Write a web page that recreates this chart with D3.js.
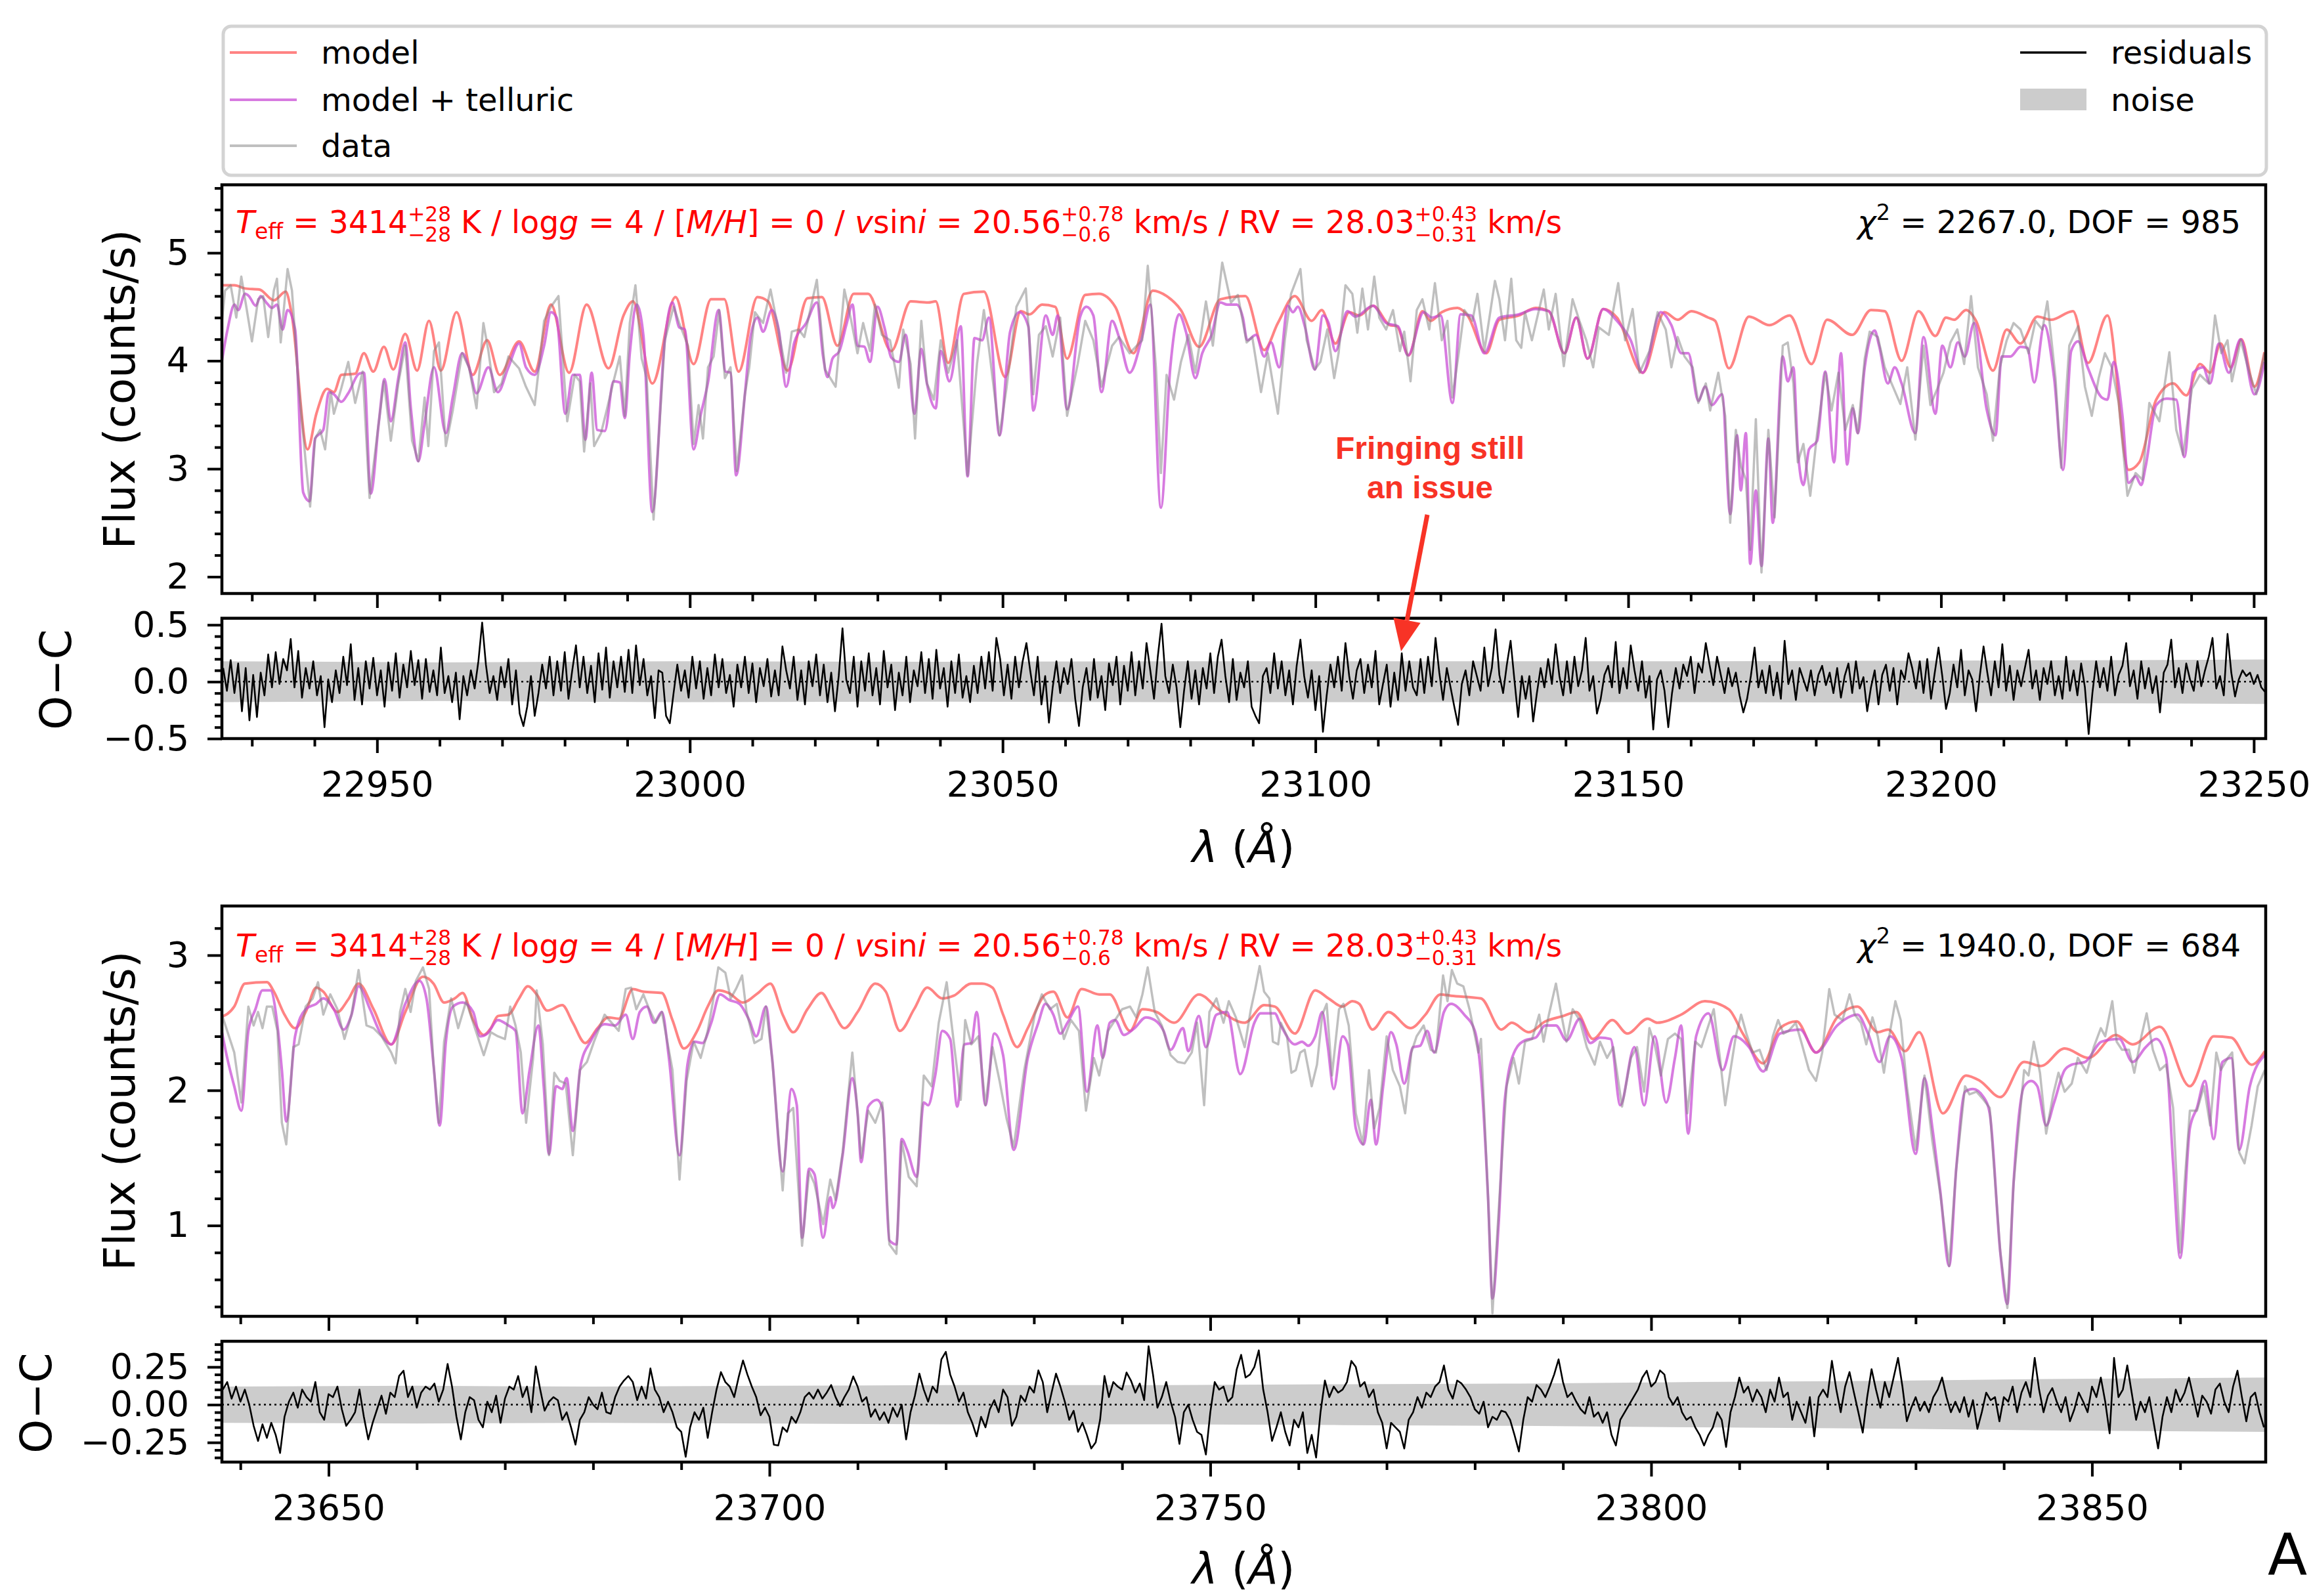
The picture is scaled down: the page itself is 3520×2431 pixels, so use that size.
<!DOCTYPE html>
<html>
<head>
<meta charset="utf-8">
<script src="https://cdn.jsdelivr.net/npm/d3@7"></script>
<style>
  body { margin: 0; background: #fff; }
  text { white-space: pre; }
</style>
</head>
<body>
<script>
// ---------------------------------------------------------------
// Data (wavelength in Angstrom, flux in counts/s)

// Upper order: model, model + telluric, observed data
var topModel = [[22924.9,4.70],[22927.2,4.70],[22928.9,4.67],[22931.2,4.66],[22933.5,4.56],[22935.4,4.64],[22936.3,4.45],[22938.9,3.18],[22940.3,3.51],[22942.0,3.74],[22943.1,3.71],[22944.3,3.87],[22946.5,3.88],[22947.9,4.07],[22949.4,3.90],[22951.1,4.13],[22952.6,3.92],[22954.5,4.25],[22956.4,3.91],[22958.3,4.37],[22960.2,3.91],[22962.7,4.45],[22965.3,3.87],[22967.6,4.19],[22969.6,3.87],[22972.7,4.18],[22975.2,3.90],[22977.8,4.52],[22980.7,3.89],[22983.5,4.52],[22987.0,3.93],[22989.4,4.42],[22990.9,4.55],[22994.0,3.79],[22997.7,4.59],[23000.6,3.97],[23003.4,4.57],[23005.5,4.57],[23007.8,3.90],[23010.8,4.59],[23012.5,4.55],[23015.6,3.91],[23018.8,4.58],[23021.1,4.59],[23023.6,4.14],[23026.2,4.62],[23028.5,4.62],[23032.2,4.09],[23035.3,4.55],[23038.1,4.54],[23039.3,4.55],[23041.3,3.98],[23043.8,4.62],[23047.0,4.64],[23050.4,3.85],[23052.9,4.46],[23054.3,4.43],[23056.3,4.52],[23058.4,4.50],[23060.3,4.02],[23063.2,4.61],[23065.4,4.62],[23068.0,4.50],[23070.9,4.07],[23074.0,4.65],[23076.2,4.60],[23078.5,4.47],[23081.4,4.13],[23084.8,4.57],[23088.8,4.60],[23091.8,4.10],[23094.0,4.35],[23096.7,4.60],[23099.4,4.37],[23101.0,4.47],[23103.2,4.16],[23105.4,4.45],[23107.0,4.42],[23109.2,4.51],[23111.9,4.33],[23113.0,4.32],[23114.9,4.05],[23117.1,4.46],[23118.4,4.37],[23120.2,4.45],[23122.7,4.49],[23124.3,4.42],[23127.3,4.07],[23129.4,4.38],[23132.5,4.42],[23135.2,4.49],[23137.3,4.46],[23139.8,4.07],[23141.7,4.40],[23143.5,4.02],[23146.0,4.48],[23148.2,4.40],[23152.3,3.89],[23155.8,4.45],[23157.9,4.38],[23160.1,4.46],[23162.8,4.40],[23163.9,4.37],[23166.1,3.93],[23169.3,4.41],[23172.6,4.33],[23175.8,4.42],[23179.3,3.97],[23181.8,4.38],[23185.8,4.24],[23188.8,4.47],[23191.0,4.46],[23193.7,4.00],[23196.4,4.46],[23199.1,4.23],[23200.8,4.40],[23202.1,4.38],[23204.0,4.47],[23205.6,4.37],[23208.3,3.91],[23210.5,4.29],[23212.7,4.16],[23215.4,4.41],[23217.6,4.38],[23221.1,4.46],[23223.5,3.98],[23226.6,4.42],[23230.0,2.99],[23231.7,3.06],[23234.4,3.64],[23237.1,3.79],[23239.2,3.68],[23241.4,3.97],[23243.0,3.89],[23244.7,4.16],[23246.3,3.94],[23248.0,4.20],[23250.1,3.76],[23251.7,4.08]];

var topTelluric = [[22924.9,3.89],[22926.1,4.29],[22927.2,4.52],[22927.8,4.47],[22928.9,4.62],[22929.5,4.60],[22930.6,4.51],[22931.4,4.60],[22932.3,4.54],[22933.2,4.49],[22934.0,4.52],[22934.9,4.29],[22935.7,4.47],[22936.9,4.29],[22938.2,2.78],[22939.2,2.70],[22940.1,3.28],[22941.4,3.36],[22942.3,3.71],[22943.1,3.69],[22944.3,3.62],[22945.4,3.70],[22947.1,3.88],[22947.9,3.89],[22949.0,2.77],[22950.3,3.44],[22951.2,3.83],[22952.2,3.44],[22953.4,3.84],[22954.5,4.17],[22955.4,3.56],[22956.6,3.07],[22957.6,3.42],[22959.1,3.94],[22961.0,3.33],[22962.1,3.66],[22963.6,4.07],[22964.7,3.94],[22965.9,3.70],[22967.8,3.94],[22969.3,3.71],[22971.0,3.94],[22972.7,4.16],[22973.8,3.94],[22975.2,3.87],[22976.7,4.14],[22977.8,4.45],[22978.7,4.40],[22980.1,3.51],[22981.3,3.87],[22982.4,3.87],[22983.3,3.27],[22984.3,3.89],[22985.2,3.36],[22986.4,3.35],[22987.8,3.81],[22988.8,3.80],[22989.6,3.47],[22990.4,4.07],[22991.5,4.52],[22992.6,4.22],[22994.0,2.60],[22996.0,4.19],[22997.2,4.54],[22998.3,4.31],[22999.2,4.29],[23000.6,3.18],[23001.7,3.49],[23002.9,3.80],[23004.6,4.47],[23005.7,3.90],[23006.5,3.89],[23007.4,2.94],[23008.8,3.69],[23009.7,4.22],[23010.8,4.40],[23011.7,4.27],[23013.1,4.47],[23014.2,4.29],[23015.4,3.76],[23016.7,4.17],[23018.6,4.35],[23020.3,4.54],[23021.3,4.04],[23022.0,3.85],[23022.8,4.02],[23023.9,4.09],[23025.0,4.33],[23026.0,4.52],[23026.8,4.14],[23027.9,4.13],[23028.8,3.99],[23030.0,4.50],[23031.1,4.31],[23032.2,4.03],[23033.4,3.99],[23034.5,4.24],[23035.9,3.51],[23037.0,4.11],[23037.9,3.79],[23039.3,3.56],[23040.1,4.09],[23041.5,3.81],[23043.3,4.32],[23044.4,2.93],[23045.5,4.21],[23046.7,4.19],[23047.8,4.40],[23049.5,3.31],[23051.2,4.27],[23052.7,4.45],[23054.1,4.32],[23054.9,3.54],[23056.9,4.42],[23058.0,4.24],[23058.8,4.42],[23060.3,3.55],[23062.4,4.41],[23063.4,4.50],[23064.5,4.42],[23065.8,3.71],[23067.5,4.37],[23068.6,4.22],[23070.3,3.89],[23072.3,4.22],[23073.6,4.52],[23075.3,2.64],[23076.8,3.94],[23078.2,4.43],[23079.3,4.27],[23080.8,3.84],[23081.9,4.07],[23083.4,4.24],[23084.8,4.54],[23085.9,4.52],[23087.4,4.52],[23088.4,4.40],[23089.1,4.19],[23090.5,4.24],[23091.8,4.04],[23092.9,4.17],[23094.2,3.94],[23095.6,4.51],[23096.4,4.45],[23097.2,4.50],[23098.3,4.32],[23099.9,3.92],[23101.2,4.42],[23102.1,4.35],[23103.2,4.09],[23105.1,4.46],[23106.4,4.41],[23109.2,4.51],[23111.3,4.35],[23113.2,4.32],[23114.8,4.05],[23117.3,4.45],[23118.6,4.40],[23120.0,4.42],[23121.9,3.61],[23123.2,4.43],[23124.9,4.42],[23127.0,4.07],[23129.4,4.40],[23132.5,4.43],[23135.2,4.48],[23137.3,4.46],[23139.8,4.07],[23141.7,4.40],[23143.5,4.02],[23146.0,4.48],[23148.2,4.37],[23150.4,4.19],[23152.3,3.89],[23155.2,4.45],[23156.9,4.33],[23158.5,4.07],[23159.6,4.07],[23161.2,3.63],[23162.3,3.76],[23163.4,3.59],[23165.0,3.69],[23166.3,2.58],[23167.4,3.31],[23168.0,2.80],[23168.8,3.33],[23169.5,2.12],[23170.4,2.80],[23171.3,2.10],[23172.4,3.28],[23173.1,2.50],[23174.7,4.04],[23175.5,3.81],[23176.4,3.94],[23177.1,3.18],[23178.0,2.85],[23178.9,3.18],[23180.2,3.26],[23181.5,3.90],[23182.9,3.06],[23184.0,4.07],[23185.0,3.04],[23185.9,3.56],[23186.7,3.33],[23187.8,3.94],[23189.4,4.28],[23190.1,4.14],[23191.5,3.79],[23192.6,3.94],[23193.7,3.79],[23195.9,3.33],[23197.2,4.22],[23199.1,3.51],[23200.2,4.14],[23201.5,3.94],[23202.7,4.17],[23203.8,4.04],[23205.3,4.35],[23207.3,3.55],[23208.7,3.31],[23209.7,4.04],[23211.1,4.04],[23212.7,4.13],[23213.8,4.12],[23214.9,3.80],[23216.5,4.33],[23218.1,3.83],[23219.5,2.99],[23220.8,4.09],[23221.9,4.18],[23223.5,3.93],[23225.7,3.66],[23226.6,3.64],[23227.6,3.99],[23229.0,3.49],[23230.0,2.87],[23231.1,2.93],[23232.0,2.85],[23232.7,3.02],[23234.4,3.59],[23236.0,3.65],[23237.6,3.64],[23238.9,3.11],[23240.3,3.89],[23241.9,3.94],[23243.0,3.79],[23244.4,4.16],[23246.0,3.89],[23247.9,4.20],[23250.1,3.69],[23251.7,3.99]];

var topData = [[22924.9,4.19],[22925.7,4.65],[22926.6,4.70],[22927.5,4.40],[22928.3,4.78],[22929.1,4.50],[22930.0,4.18],[22931.0,4.57],[22931.8,4.60],[22932.6,4.22],[22933.5,4.65],[22934.0,4.76],[22934.6,4.17],[22935.7,4.85],[22936.4,4.65],[22937.4,3.81],[22938.6,3.06],[22939.3,2.65],[22940.1,3.28],[22940.9,3.36],[22941.7,3.18],[22942.6,3.71],[22943.1,3.51],[22944.3,3.75],[22945.4,3.99],[22946.5,3.61],[22947.7,3.90],[22948.8,2.73],[22950.3,3.44],[22951.1,3.81],[22952.2,3.26],[22953.4,3.79],[22954.5,4.14],[22955.6,3.26],[22956.6,3.07],[22957.6,3.66],[22958.2,3.21],[22959.1,4.09],[22959.9,4.17],[22961.0,3.21],[22962.1,3.54],[22963.6,4.07],[22964.7,3.94],[22965.9,3.56],[22967.0,4.35],[22967.8,4.09],[22968.7,3.71],[22969.9,3.79],[22971.0,4.04],[22972.7,3.93],[22973.8,3.76],[22975.2,3.59],[22976.7,4.37],[22977.8,4.50],[22979.0,4.60],[22980.4,3.44],[22981.6,3.87],[22982.4,3.81],[22983.1,3.16],[22984.1,3.79],[22984.7,3.21],[22985.8,3.33],[22986.7,3.54],[22987.8,3.81],[22988.8,4.04],[22989.6,3.49],[22990.4,4.35],[22991.3,4.70],[22992.3,4.02],[22993.1,3.84],[22994.2,2.53],[22996.0,4.19],[22997.4,4.50],[22998.3,4.35],[22999.7,4.14],[23000.6,3.23],[23001.4,3.59],[23002.1,3.28],[23002.9,3.94],[23003.8,4.04],[23004.7,4.47],[23005.6,3.84],[23006.5,3.94],[23007.5,2.98],[23008.8,3.69],[23009.5,3.94],[23010.4,4.45],[23011.7,4.35],[23012.9,4.66],[23014.2,4.27],[23015.4,3.89],[23016.3,4.27],[23017.4,4.29],[23018.3,4.22],[23020.3,4.75],[23021.6,3.92],[23023.3,3.76],[23024.7,4.66],[23025.8,4.37],[23026.8,4.07],[23027.7,4.35],[23028.8,4.09],[23029.6,4.52],[23030.7,4.24],[23032.0,4.19],[23033.4,3.75],[23034.1,4.29],[23035.3,3.97],[23036.0,3.28],[23037.0,4.37],[23037.9,3.79],[23039.0,3.64],[23040.1,4.19],[23041.3,3.89],[23042.7,4.19],[23044.4,2.94],[23045.9,3.97],[23047.0,4.47],[23047.8,4.12],[23049.5,3.31],[23050.6,3.74],[23052.2,4.50],[23053.7,4.67],[23054.9,3.69],[23055.8,4.24],[23056.9,4.32],[23058.0,4.04],[23059.2,4.40],[23060.3,3.49],[23062.0,3.97],[23063.2,4.37],[23064.5,4.19],[23065.8,3.76],[23067.5,4.14],[23068.6,4.22],[23070.3,4.07],[23072.3,4.19],[23073.2,4.88],[23074.5,3.94],[23075.3,2.96],[23076.2,3.87],[23077.4,3.64],[23078.5,3.99],[23079.7,4.24],[23080.8,3.89],[23082.5,4.55],[23083.6,4.14],[23085.1,4.91],[23086.5,4.54],[23087.6,4.61],[23089.0,4.17],[23089.9,4.22],[23091.3,3.71],[23092.4,4.07],[23094.0,3.51],[23095.1,4.19],[23096.1,4.62],[23097.6,4.85],[23098.6,4.19],[23099.9,3.92],[23100.8,3.99],[23101.9,4.29],[23103.0,3.84],[23103.7,4.07],[23104.8,4.70],[23105.9,4.62],[23106.7,4.26],[23107.5,4.67],[23108.4,4.29],[23109.4,4.78],[23110.2,4.40],[23111.3,4.29],[23112.4,4.47],[23113.5,4.09],[23114.2,4.27],[23115.2,3.81],[23116.2,4.47],[23117.1,4.57],[23118.2,4.29],[23119.1,4.72],[23120.2,4.19],[23121.1,4.37],[23121.9,3.66],[23122.9,4.07],[23123.8,4.47],[23125.1,4.37],[23125.9,4.62],[23127.0,4.09],[23128.7,4.74],[23129.4,4.57],[23130.3,4.19],[23131.3,4.76],[23132.1,4.19],[23132.9,4.12],[23133.5,4.45],[23134.6,4.19],[23136.5,4.66],[23137.3,4.29],[23138.4,4.62],[23139.7,3.95],[23141.1,4.57],[23142.2,4.37],[23143.3,4.19],[23144.4,3.94],[23145.3,4.31],[23146.9,4.24],[23148.4,4.72],[23149.5,4.19],[23150.7,4.48],[23151.8,3.89],[23153.4,4.09],[23154.7,4.45],[23156.0,4.29],[23156.9,3.94],[23157.9,4.22],[23159.0,4.04],[23160.3,3.94],[23161.2,3.61],[23162.4,3.79],[23163.1,3.54],[23164.4,3.89],[23165.5,3.49],[23166.3,2.50],[23167.2,3.36],[23168.0,3.03],[23168.8,2.90],[23169.5,2.25],[23170.4,3.46],[23171.3,2.04],[23172.4,3.36],[23173.4,2.55],[23174.7,4.14],[23175.5,4.17],[23176.4,3.79],[23177.1,3.06],[23178.0,3.23],[23179.1,2.75],[23180.2,3.33],[23181.5,3.89],[23182.5,3.54],[23183.6,3.89],[23184.7,3.36],[23185.9,3.59],[23186.7,3.33],[23187.8,4.02],[23188.6,4.27],[23189.9,4.22],[23191.0,3.94],[23192.1,3.79],[23193.5,3.60],[23194.6,3.94],[23195.9,3.27],[23197.2,4.14],[23198.3,3.59],[23199.4,3.74],[23200.4,3.89],[23201.5,4.17],[23202.6,4.29],[23203.7,3.97],[23204.8,4.60],[23205.9,3.94],[23207.3,3.69],[23208.3,3.26],[23209.4,3.94],[23210.5,4.19],[23211.6,4.35],[23212.7,4.29],[23214.0,4.07],[23215.1,4.37],[23216.2,4.29],[23217.0,4.55],[23218.3,3.84],[23219.2,3.01],[23220.5,4.14],[23221.9,4.32],[23223.0,3.76],[23224.1,3.49],[23225.2,3.84],[23226.2,4.07],[23227.3,3.94],[23228.4,3.61],[23229.8,2.75],[23231.1,2.96],[23232.2,2.90],[23233.3,3.61],[23234.9,3.44],[23236.5,4.08],[23237.6,3.36],[23238.7,3.13],[23240.1,3.74],[23241.4,3.87],[23242.8,3.79],[23243.8,4.42],[23244.8,4.07],[23245.8,4.19],[23246.5,3.81],[23247.9,4.19],[23249.3,3.89],[23250.4,3.69],[23251.7,4.07]];

// Upper order residuals, sampled every 0.6 A from 22925.4 A
var topResStart = 22925.4, topResStep = 0.6;
var topResidual = [0.12,-0.08,0.19,-0.10,0.16,-0.26,0.12,-0.34,0.06,-0.31,
0.08,-0.12,0.24,-0.05,0.26,-0.02,0.20,0.10,0.375,-0.05,
0.27,-0.14,0.12,-0.06,0.18,-0.12,0.05,-0.40,0.02,-0.18,
0.10,-0.10,0.22,-0.03,0.33,-0.16,0.12,-0.20,0.18,-0.06,
0.21,-0.12,0.10,-0.22,0.17,-0.08,0.25,-0.14,0.15,-0.05,
0.27,-0.03,0.19,-0.15,0.20,-0.09,0.10,-0.12,0.30,-0.10,
0.05,-0.18,0.08,-0.33,0.05,-0.12,0.10,-0.06,0.18,0.52,
0.15,-0.10,0.05,-0.16,0.13,-0.05,0.20,-0.20,0.10,-0.28,
-0.39,-0.22,0.05,-0.30,-0.10,0.15,-0.06,0.22,-0.12,0.18,
-0.08,0.26,-0.15,0.10,0.32,-0.05,0.22,-0.10,0.14,-0.18,
0.25,-0.07,0.30,-0.14,0.18,-0.05,0.22,-0.09,0.28,-0.10,
0.32,-0.03,0.20,-0.12,0.05,-0.32,0.10,0.08,-0.30,-0.365,
-0.10,0.15,-0.08,0.10,-0.14,0.22,-0.06,0.18,-0.15,0.12,
-0.12,0.24,-0.05,0.20,-0.10,0.06,-0.22,0.15,-0.05,0.22,
-0.10,0.16,-0.18,0.12,-0.04,0.20,-0.13,0.10,-0.12,0.31,
0.10,-0.06,0.22,-0.16,0.10,-0.20,0.18,-0.04,0.24,-0.12,
0.15,-0.18,0.08,-0.26,0.05,0.47,0.02,-0.10,0.22,-0.22,
0.18,-0.08,0.25,-0.12,0.12,-0.20,0.27,-0.05,0.15,-0.25,
0.08,-0.12,0.22,-0.18,0.10,-0.04,0.26,-0.10,0.20,-0.15,
0.28,-0.06,0.12,-0.22,0.18,-0.10,0.24,-0.14,0.05,-0.18,
0.14,-0.10,0.22,-0.06,0.26,-0.08,0.385,0.20,-0.12,0.15,
-0.15,0.22,-0.05,0.18,0.34,0.10,-0.12,0.22,-0.20,0.05,
-0.36,-0.05,0.18,-0.10,0.12,-0.02,0.20,-0.15,-0.39,-0.05,
0.12,-0.16,0.20,-0.14,0.05,-0.25,0.16,-0.03,0.22,-0.20,
0.14,-0.08,0.26,-0.12,0.18,-0.06,0.34,0.10,-0.15,0.22,
0.51,0.05,-0.10,0.15,-0.05,-0.40,-0.08,0.18,-0.15,0.10,
-0.20,0.12,-0.06,0.25,-0.10,0.22,0.37,0.05,-0.18,0.20,
-0.16,0.08,-0.05,0.18,-0.22,-0.30,-0.365,0.05,0.12,-0.10,
0.25,-0.06,0.18,-0.12,0.10,-0.20,0.14,0.37,0.05,-0.14,
0.10,-0.25,0.05,-0.44,-0.12,0.15,-0.05,0.22,-0.08,0.34,
0.05,-0.15,0.10,0.20,-0.10,0.15,-0.05,0.27,-0.20,-0.02,
0.15,-0.22,0.08,-0.16,0.25,-0.08,0.18,-0.05,-0.12,0.20,
-0.10,0.22,-0.04,0.385,0.08,-0.16,0.12,-0.05,-0.22,-0.38,
-0.02,0.10,-0.12,0.18,0.05,-0.08,0.30,-0.04,0.12,0.46,
0.06,-0.10,0.15,0.36,0.02,-0.31,0.05,-0.15,0.05,-0.35,
-0.10,0.12,-0.05,0.20,-0.02,0.33,0.05,-0.12,0.18,-0.10,
0.22,-0.04,0.10,0.385,-0.08,0.05,-0.28,-0.15,0.06,0.14,
-0.05,0.35,-0.10,0.12,-0.06,0.32,0.10,-0.08,0.18,-0.14,
0.05,-0.42,0.02,0.10,-0.08,-0.40,-0.10,0.12,-0.06,0.15,
0.05,0.22,-0.10,0.16,0.08,0.34,0.15,-0.03,0.22,0.06,
-0.10,0.12,-0.04,0.08,-0.12,-0.27,-0.15,0.05,0.30,-0.05,
0.10,-0.10,0.14,-0.12,0.08,-0.15,0.36,-0.02,0.10,-0.16,
0.12,0.02,-0.08,0.10,-0.12,0.06,0.14,-0.03,0.08,-0.10,
0.12,-0.14,0.05,0.16,-0.10,0.18,-0.06,0.04,-0.26,-0.05,
0.10,-0.20,0.06,0.15,-0.08,0.12,-0.20,0.10,0.02,0.25,
0.12,-0.06,0.18,-0.10,0.20,-0.15,0.08,0.30,0.05,-0.24,
-0.10,0.15,-0.05,0.28,-0.12,0.10,0.02,-0.26,0.05,0.31,
0.08,-0.12,0.18,-0.05,0.33,-0.08,0.14,-0.16,0.10,-0.04,
0.12,0.28,-0.06,0.10,-0.16,0.12,-0.02,0.18,-0.12,0.05,
-0.15,0.22,-0.08,0.10,-0.12,0.16,-0.05,-0.46,-0.10,0.18,
-0.05,0.12,-0.08,0.22,-0.12,0.06,0.14,0.34,-0.04,0.10,
-0.15,0.18,-0.06,0.12,-0.10,0.05,-0.27,0.08,0.15,0.37,
-0.05,0.12,-0.10,0.16,0.02,-0.08,0.18,-0.04,0.10,0.22,
0.385,-0.06,0.05,-0.12,0.42,0.08,-0.13,0.02,0.10,0.05,
0.08,-0.02,0.06,-0.05,-0.09];

var topNoiseWl = [22925, 22960, 23000, 23040, 23080, 23120, 23160, 23200, 23230, 23252];
var topNoise   = [0.18, 0.17, 0.18, 0.175, 0.18, 0.18, 0.18, 0.185, 0.19, 0.195];

// Lower order
var botModel = [[23637.7,2.54],[23639.3,2.62],[23640.5,2.79],[23643.0,2.80],[23643.8,2.73],[23645.0,2.56],[23646.2,2.46],[23647.4,2.58],[23648.6,2.76],[23649.4,2.73],[23651.0,2.58],[23652.2,2.67],[23653.4,2.79],[23655.1,2.60],[23657.1,2.34],[23658.7,2.58],[23660.7,2.84],[23661.9,2.79],[23663.1,2.65],[23664.3,2.68],[23665.2,2.72],[23666.4,2.52],[23667.6,2.41],[23668.4,2.46],[23669.2,2.55],[23670.4,2.56],[23671.6,2.68],[23672.6,2.77],[23673.6,2.71],[23674.8,2.59],[23676.5,2.63],[23677.7,2.50],[23679.1,2.35],[23680.5,2.46],[23681.7,2.54],[23682.9,2.53],[23684.5,2.75],[23685.7,2.73],[23687.8,2.72],[23689.0,2.52],[23690.3,2.31],[23691.8,2.44],[23693.0,2.62],[23694.2,2.74],[23695.4,2.72],[23697.0,2.65],[23698.7,2.72],[23700.1,2.79],[23701.5,2.56],[23702.7,2.43],[23704.3,2.60],[23705.9,2.72],[23707.1,2.60],[23708.5,2.46],[23710.0,2.58],[23712.0,2.79],[23713.2,2.73],[23714.8,2.44],[23716.4,2.60],[23717.9,2.76],[23719.6,2.68],[23720.9,2.70],[23722.9,2.79],[23724.1,2.79],[23725.3,2.76],[23726.5,2.56],[23728.1,2.32],[23729.3,2.46],[23731.3,2.71],[23732.2,2.73],[23733.8,2.54],[23735.4,2.75],[23737.4,2.71],[23738.6,2.71],[23740.9,2.44],[23742.3,2.60],[23743.9,2.58],[23745.9,2.50],[23748.7,2.71],[23751.1,2.59],[23753.9,2.50],[23756.1,2.63],[23757.3,2.62],[23759.6,2.42],[23761.9,2.74],[23763.4,2.68],[23765.0,2.62],[23766.1,2.66],[23766.9,2.64],[23768.4,2.45],[23770.2,2.58],[23772.7,2.46],[23774.4,2.56],[23776.1,2.71],[23777.3,2.70],[23780.7,2.68],[23783.0,2.45],[23784.2,2.50],[23786.1,2.43],[23788.0,2.51],[23790.0,2.55],[23791.5,2.58],[23793.4,2.38],[23795.6,2.52],[23797.3,2.42],[23799.6,2.53],[23800.7,2.50],[23803.4,2.56],[23806.1,2.66],[23808.8,2.60],[23810.4,2.42],[23812.7,2.20],[23814.6,2.46],[23816.5,2.51],[23818.7,2.28],[23821.1,2.54],[23823.4,2.62],[23825.7,2.43],[23826.9,2.45],[23828.8,2.29],[23830.4,2.43],[23833.1,1.83],[23835.7,2.11],[23837.3,2.07],[23839.6,1.95],[23842.3,2.21],[23844.2,2.18],[23846.9,2.31],[23849.6,2.24],[23852.7,2.41],[23854.6,2.34],[23857.7,2.47],[23861.1,2.03],[23863.8,2.40],[23865.8,2.39],[23868.1,2.19],[23869.6,2.29]];

var botTelluric = [[23637.7,2.50],[23638.5,2.24],[23639.3,2.03],[23640.1,1.85],[23640.9,2.44],[23641.7,2.60],[23642.5,2.74],[23643.4,2.74],[23644.2,2.48],[23644.7,2.15],[23645.2,1.77],[23646.2,2.40],[23647.4,2.60],[23648.6,2.64],[23649.4,2.68],[23650.6,2.60],[23651.7,2.45],[23652.6,2.56],[23653.4,2.77],[23654.7,2.60],[23655.9,2.42],[23657.1,2.34],[23658.7,2.64],[23660.3,2.81],[23661.1,2.68],[23661.9,2.19],[23662.6,1.74],[23663.3,2.36],[23664.1,2.62],[23665.2,2.65],[23666.4,2.58],[23667.2,2.40],[23668.0,2.42],[23669.2,2.52],[23670.4,2.48],[23671.2,2.44],[23672.0,1.83],[23672.8,2.15],[23673.8,2.48],[23674.4,2.03],[23675.0,1.53],[23675.8,2.03],[23676.5,2.01],[23677.0,2.09],[23677.7,1.70],[23678.6,2.19],[23679.7,2.36],[23681.3,2.49],[23682.5,2.48],[23683.7,2.56],[23684.5,2.38],[23685.3,2.58],[23686.1,2.62],[23686.9,2.50],[23687.8,2.58],[23688.6,2.24],[23689.8,1.52],[23690.7,2.19],[23691.5,2.36],[23692.4,2.35],[23693.4,2.50],[23694.4,2.71],[23695.4,2.67],[23696.6,2.64],[23697.7,2.52],[23698.5,2.40],[23699.6,2.62],[23700.3,2.24],[23701.5,1.40],[23702.5,2.01],[23703.1,1.89],[23703.7,0.91],[23704.5,1.42],[23705.1,1.38],[23706.1,0.91],[23706.9,1.21],[23707.2,1.13],[23708.3,1.52],[23709.4,2.09],[23710.0,1.83],[23710.4,1.47],[23711.2,1.88],[23712.2,1.93],[23712.8,1.87],[23713.6,0.89],[23714.4,0.86],[23715.0,1.64],[23715.6,1.56],[23716.7,1.36],[23717.5,1.91],[23718.0,1.89],[23718.8,2.11],[23719.6,2.44],[23720.5,2.38],[23721.3,1.88],[23722.1,2.34],[23722.9,2.35],[23723.5,2.58],[23724.5,1.89],[23725.5,2.42],[23726.5,2.26],[23727.7,1.56],[23729.3,2.24],[23730.5,2.50],[23731.3,2.64],[23732.2,2.56],[23733.0,2.42],[23733.8,2.50],[23735.0,2.62],[23736.0,1.99],[23737.2,2.48],[23737.8,2.24],[23738.6,2.50],[23739.2,2.52],[23740.2,2.41],[23741.4,2.46],[23742.7,2.54],[23743.7,2.52],[23744.7,2.44],[23745.5,2.30],[23746.9,2.46],[23747.5,2.29],[23748.7,2.55],[23749.5,2.32],[23750.7,2.56],[23751.9,2.58],[23753.4,2.12],[23755.0,2.50],[23755.7,2.57],[23757.3,2.57],[23758.0,2.48],[23759.6,2.34],[23760.4,2.36],[23761.1,2.33],[23761.9,2.40],[23762.7,2.58],[23763.3,2.34],[23764.0,2.01],[23765.0,2.40],[23765.6,2.34],[23766.5,1.72],[23767.4,1.60],[23768.2,1.93],[23768.8,1.60],[23769.6,2.03],[23770.5,2.43],[23771.1,2.34],[23772.0,2.05],[23773.0,2.32],[23773.8,2.33],[23774.6,2.44],[23775.4,2.28],[23776.5,2.58],[23777.3,2.64],[23778.8,2.56],[23780.0,2.44],[23780.7,2.11],[23781.5,1.21],[23782.0,0.46],[23782.7,1.01],[23783.4,1.93],[23784.6,2.30],[23785.7,2.37],[23786.9,2.39],[23788.0,2.48],[23789.2,2.48],[23790.4,2.37],[23791.9,2.53],[23793.1,2.35],[23794.2,2.39],[23795.4,2.38],[23796.5,1.89],[23798.1,2.32],[23799.2,1.89],[23800.4,2.40],[23801.7,1.91],[23802.7,2.24],[23803.4,2.48],[23804.2,1.68],[23805.1,2.40],[23806.5,2.57],[23808.1,2.15],[23809.4,2.40],[23811.1,2.32],[23812.7,2.14],[23814.6,2.42],[23816.9,2.45],[23818.7,2.28],[23821.1,2.48],[23823.4,2.56],[23824.6,2.42],[23825.9,2.21],[23827.1,2.40],[23828.4,2.24],[23830.0,1.53],[23831.0,2.09],[23831.9,1.72],[23832.8,1.25],[23833.8,0.70],[23834.6,1.42],[23835.6,1.99],[23836.5,2.01],[23837.7,1.95],[23838.4,1.83],[23839.6,0.80],[23840.4,0.42],[23841.1,1.31],[23842.3,2.03],[23843.1,2.07],[23843.8,2.03],[23844.8,1.74],[23845.7,1.91],[23846.9,2.15],[23847.7,2.19],[23849.2,2.21],[23851.1,2.36],[23853.1,2.38],[23854.6,2.21],[23856.1,2.32],[23857.3,2.38],[23858.4,2.24],[23859.2,1.46],[23860.0,0.76],[23861.1,1.72],[23861.9,1.87],[23862.8,2.07],[23863.8,1.64],[23864.8,2.21],[23865.8,2.24],[23866.7,1.56],[23867.9,2.03],[23869.6,2.26]];

var botData = [[23637.7,2.60],[23638.5,2.44],[23639.3,2.28],[23640.1,1.91],[23640.9,2.62],[23641.5,2.48],[23642.0,2.58],[23642.5,2.46],[23643.0,2.62],[23643.6,2.62],[23644.2,2.44],[23644.7,1.76],[23645.2,1.60],[23646.0,2.32],[23646.6,2.34],[23647.4,2.62],[23648.2,2.68],[23648.8,2.80],[23649.4,2.56],[23650.2,2.71],[23651.0,2.60],[23651.8,2.38],[23652.6,2.56],[23653.4,2.89],[23654.3,2.48],[23655.1,2.46],[23656.0,2.40],[23657.1,2.28],[23657.6,2.20],[23658.1,2.58],[23658.7,2.75],[23659.3,2.58],[23659.9,2.81],[23660.7,2.91],[23661.4,2.75],[23661.9,2.19],[23662.5,1.76],[23663.1,2.36],[23663.9,2.68],[23664.7,2.46],[23665.6,2.66],[23666.4,2.50],[23667.6,2.26],[23668.4,2.43],[23669.2,2.40],[23670.0,2.38],[23670.6,2.62],[23671.2,2.48],[23671.8,2.28],[23672.4,1.76],[23673.2,2.24],[23673.6,2.74],[23674.3,2.34],[23675.0,1.52],[23675.6,2.13],[23676.2,2.07],[23676.9,2.05],[23677.7,1.52],[23678.5,2.15],[23679.3,2.21],[23680.1,2.36],[23681.3,2.56],[23682.1,2.50],[23682.9,2.44],[23683.7,2.75],[23684.3,2.76],[23684.9,2.60],[23685.7,2.71],[23686.3,2.61],[23687.1,2.50],[23687.8,2.58],[23689.0,2.15],[23689.8,1.34],[23690.6,2.07],[23691.4,2.36],[23692.2,2.24],[23693.0,2.44],[23693.6,2.66],[23694.2,2.91],[23695.0,2.87],[23695.6,2.68],[23696.2,2.75],[23696.9,2.85],[23697.4,2.58],[23698.3,2.35],[23699.1,2.38],[23699.6,2.62],[23700.3,2.24],[23701.5,1.26],[23702.1,1.83],[23702.7,1.87],[23703.7,0.85],[23704.5,1.40],[23705.1,1.31],[23706.1,1.01],[23706.9,1.34],[23707.5,1.19],[23708.3,1.54],[23709.4,2.28],[23710.0,1.83],[23710.4,1.50],[23711.2,1.85],[23712.0,1.76],[23712.8,1.91],[23713.6,0.86],[23714.4,0.79],[23715.0,1.62],[23715.8,1.36],[23716.7,1.29],[23717.5,2.11],[23718.4,2.03],[23719.2,2.50],[23720.1,2.80],[23720.9,2.36],[23721.7,1.93],[23722.2,2.52],[23722.9,2.34],[23723.7,2.40],[23724.5,1.89],[23725.3,2.32],[23726.1,2.07],[23726.9,1.79],[23727.7,1.58],[23728.9,2.15],[23730.1,2.56],[23730.9,2.71],[23731.8,2.60],[23732.6,2.64],[23733.4,2.38],[23734.2,2.52],[23735.1,2.44],[23735.9,1.85],[23736.8,2.24],[23737.4,2.11],[23738.4,2.44],[23739.2,2.52],[23740.0,2.60],[23740.9,2.62],[23741.6,2.54],[23742.3,2.71],[23742.9,2.91],[23743.7,2.58],[23744.5,2.48],[23745.5,2.26],[23746.3,2.21],[23747.1,2.20],[23747.9,2.28],[23748.5,2.50],[23749.3,1.89],[23749.9,2.58],[23750.7,2.68],[23751.5,2.50],[23752.1,2.66],[23752.9,2.54],[23753.9,2.32],[23754.6,2.60],[23755.1,2.75],[23755.6,2.92],[23756.1,2.73],[23756.7,2.68],[23757.1,2.36],[23757.7,2.34],[23758.0,2.50],[23758.7,2.40],[23759.2,2.13],[23759.7,2.15],[23760.2,2.28],[23760.7,2.30],[23761.5,2.03],[23762.1,2.19],[23762.7,2.56],[23763.2,2.64],[23763.8,2.11],[23764.6,2.60],[23765.1,2.64],[23765.7,2.48],[23766.5,1.83],[23767.3,1.60],[23768.0,2.15],[23768.6,1.72],[23769.2,1.87],[23770.0,2.40],[23770.7,2.15],[23771.5,2.03],[23772.1,1.83],[23772.8,2.28],[23773.4,2.40],[23774.2,2.48],[23775.0,2.30],[23775.6,2.28],[23776.4,2.85],[23776.9,2.66],[23777.4,2.89],[23778.0,2.79],[23778.7,2.77],[23779.4,2.60],[23780.4,2.28],[23780.7,2.38],[23781.5,1.21],[23782.0,0.35],[23782.8,1.21],[23783.6,2.03],[23784.4,2.24],[23785.0,2.05],[23785.7,2.36],[23786.5,2.38],[23787.3,2.56],[23787.8,2.36],[23788.4,2.56],[23789.2,2.79],[23789.7,2.60],[23790.4,2.36],[23791.1,2.60],[23791.9,2.52],[23792.7,2.32],[23793.6,2.19],[23794.2,2.36],[23795.0,2.24],[23795.7,2.32],[23796.7,1.88],[23797.7,2.24],[23798.4,2.32],[23799.2,1.99],[23799.8,2.46],[23800.4,2.34],[23801.1,2.11],[23801.9,2.38],[23802.7,2.42],[23803.4,2.38],[23804.1,1.83],[23805.0,2.36],[23805.7,2.32],[23806.5,2.48],[23807.1,2.60],[23807.8,2.24],[23808.4,1.89],[23809.0,2.15],[23809.6,2.40],[23810.2,2.56],[23810.8,2.42],[23811.5,2.28],[23812.3,2.30],[23813.1,2.15],[23813.8,2.40],[23814.4,2.52],[23815.0,2.42],[23815.6,2.44],[23816.4,2.50],[23817.1,2.34],[23817.9,2.15],[23818.7,2.07],[23819.4,2.28],[23820.2,2.75],[23820.8,2.56],[23821.7,2.52],[23822.5,2.71],[23823.1,2.56],[23823.8,2.50],[23824.4,2.34],[23825.1,2.54],[23825.7,2.40],[23826.4,2.13],[23827.0,2.40],[23827.7,2.66],[23828.3,2.52],[23829.0,2.03],[23830.0,1.56],[23831.0,2.11],[23831.9,1.62],[23832.8,1.23],[23833.8,0.70],[23834.6,1.42],[23835.6,2.03],[23836.1,1.97],[23836.9,1.99],[23837.7,1.93],[23838.4,1.87],[23839.6,0.80],[23840.4,0.39],[23841.1,1.31],[23842.3,2.15],[23842.8,2.11],[23843.4,2.36],[23844.1,2.13],[23844.8,1.68],[23845.6,1.97],[23846.2,2.13],[23846.9,1.99],[23847.7,2.05],[23848.4,2.24],[23849.4,2.13],[23850.2,2.32],[23851.0,2.46],[23851.5,2.40],[23852.3,2.66],[23852.8,2.36],[23853.4,2.30],[23854.2,2.30],[23854.8,2.13],[23855.6,2.40],[23856.2,2.57],[23856.9,2.30],[23857.7,2.15],[23858.4,2.19],[23859.2,1.87],[23860.0,0.80],[23860.5,1.31],[23861.1,1.85],[23861.9,1.85],[23862.7,2.03],[23863.4,1.74],[23864.1,2.28],[23864.6,2.15],[23865.4,2.24],[23865.9,2.28],[23866.7,1.54],[23867.3,1.46],[23868.1,1.74],[23868.8,2.03],[23869.6,2.15]];

// Lower order residuals, sampled every 0.5 A from 23638.0 A
var botResStart = 23638.0, botResStep = 0.5;
var botResidual = [0.10,0.15,0.04,0.12,0.02,0.10,0.00,-0.14,-0.24,-0.13,
-0.22,-0.12,-0.20,-0.32,-0.08,0.02,0.08,-0.02,0.10,0.05,
0.02,0.15,-0.05,-0.10,0.07,0.05,0.12,-0.03,-0.14,-0.10,
-0.05,0.10,-0.08,-0.23,-0.12,-0.03,0.06,-0.06,0.08,0.05,
0.19,0.225,0.05,0.12,-0.02,0.08,0.12,0.10,0.14,0.02,
0.10,0.27,0.12,-0.08,-0.23,-0.05,0.05,0.03,-0.10,-0.15,
0.02,-0.05,0.06,-0.12,0.04,0.12,0.10,0.19,0.05,0.12,
-0.05,0.254,0.10,-0.04,0.02,0.05,0.03,-0.10,-0.05,-0.15,
-0.265,-0.10,-0.05,0.05,0.00,-0.03,0.08,-0.05,-0.06,0.05,
0.12,0.16,0.19,0.15,0.03,0.12,0.04,0.24,0.10,0.05,
-0.05,0.02,-0.05,-0.15,-0.18,-0.345,-0.15,-0.05,-0.10,-0.02,
-0.22,-0.05,0.10,0.216,0.15,0.12,0.05,0.18,0.293,0.20,
0.12,0.05,-0.07,-0.02,-0.08,-0.265,-0.27,-0.15,-0.18,-0.08,
-0.12,-0.05,0.05,0.08,0.04,0.10,0.04,0.08,0.13,0.05,
-0.01,0.05,0.10,0.187,0.12,0.02,0.05,-0.08,-0.03,-0.10,
-0.05,-0.12,-0.02,-0.08,0.00,-0.23,-0.05,0.06,0.206,0.10,
0.02,0.12,0.08,0.30,0.35,0.20,0.12,0.02,0.08,-0.05,
-0.12,-0.21,-0.08,-0.15,-0.03,0.03,-0.05,0.10,0.05,-0.14,
-0.08,0.06,0.02,0.12,0.08,0.227,0.15,-0.05,0.08,0.206,
0.12,0.02,-0.10,-0.04,-0.18,-0.12,-0.20,-0.29,-0.25,-0.10,
0.19,0.05,0.15,0.12,0.10,0.213,0.16,0.08,0.14,0.03,
0.387,0.20,-0.02,0.05,0.15,0.02,-0.08,-0.26,-0.05,0.00,
-0.10,-0.18,-0.20,-0.33,-0.05,0.15,0.10,0.12,0.02,0.05,
0.235,0.33,0.18,0.20,0.25,0.36,0.10,-0.05,-0.24,-0.15,
-0.05,-0.18,-0.27,-0.10,-0.15,-0.05,-0.32,-0.20,-0.35,-0.05,
0.16,0.05,0.12,0.08,0.10,0.15,0.29,0.25,0.12,0.15,
0.05,0.10,-0.05,-0.12,-0.29,-0.12,-0.15,-0.18,-0.29,-0.10,
-0.05,0.05,-0.02,0.08,0.05,0.12,0.15,0.26,0.10,0.04,
0.16,0.14,0.10,0.05,-0.03,-0.06,0.02,-0.15,-0.08,-0.10,
-0.04,-0.05,-0.10,-0.20,-0.31,-0.10,0.05,0.02,0.13,0.10,
0.05,0.12,0.20,0.30,0.15,0.05,0.08,0.02,-0.03,-0.06,
0.05,-0.08,-0.05,-0.12,-0.05,-0.20,-0.27,-0.10,-0.05,0.00,
0.05,0.10,0.18,0.225,0.12,0.15,0.227,0.20,0.05,0.00,
0.05,-0.05,-0.10,-0.08,-0.15,-0.20,-0.27,-0.20,-0.15,-0.05,
-0.10,-0.28,-0.05,0.05,0.18,0.08,0.12,0.02,0.10,0.05,
-0.05,0.10,0.02,0.18,0.05,0.08,-0.10,0.02,-0.05,-0.12,
0.05,-0.21,0.05,0.10,0.05,0.29,0.10,-0.05,0.12,0.216,
0.08,-0.05,-0.185,0.05,0.235,0.10,-0.02,0.15,0.05,0.18,
0.31,0.12,-0.11,-0.02,0.05,-0.04,0.02,-0.05,0.05,0.10,
0.18,0.05,-0.05,0.02,-0.05,0.05,-0.08,0.03,-0.16,-0.05,
0.08,0.03,0.05,-0.11,0.05,0.02,0.12,-0.05,0.08,0.15,
0.05,0.31,0.10,-0.05,0.06,0.11,0.02,-0.05,0.05,-0.11,
-0.03,0.08,0.02,-0.05,0.12,0.05,0.18,0.02,-0.19,0.31,
0.05,0.10,0.26,0.08,-0.10,0.02,-0.05,0.05,-0.12,-0.29,
-0.08,0.05,-0.05,0.10,0.02,0.08,0.18,0.05,-0.08,0.06,
0.02,-0.06,0.10,0.14,0.02,-0.05,0.12,0.225,0.05,-0.11,
0.05,0.08,-0.05,-0.15];

var botNoiseWl = [23638, 23660, 23680, 23700, 23720, 23745, 23765, 23785, 23805, 23830, 23845, 23870];
var botNoise   = [0.12, 0.125, 0.12, 0.125, 0.13, 0.13, 0.135, 0.14, 0.15, 0.16, 0.17, 0.18];

// Tick values
var topXTicks = [22950, 23000, 23050, 23100, 23150, 23200, 23250];
var botXTicks = [23650, 23700, 23750, 23800, 23850];
var topFluxTicks = [2, 3, 4, 5];
var topResTicks = [-0.5, 0.0, 0.5];
var botFluxTicks = [1, 2, 3];
var botResTicks = [-0.25, 0.0, 0.25];

// ---------------------------------------------------------------
var FONT = "'DejaVu Sans', sans-serif";
var W = 3520, H = 2431, L = 338, R = 3451;
var C_MODEL = '#ff5a5a', C_TELL = '#c94fd6', C_DATA = '#808080';

var svg = d3.select('body').append('svg')
    .attr('width', W).attr('height', H)
    .style('background', '#fff');

var clipN = 0;
function clipFor(y0, y1)
{
    var id = 'clip' + (clipN++);
    svg.append('clipPath').attr('id', id)
      .append('rect').attr('x', L).attr('y', y0).attr('width', R - L).attr('height', y1 - y0);
    return 'url(#' + id + ')';
}

// Left axis with major + minor ticks, bottom axis with major + minor ticks
function drawAxes(x, y, y0, y1, o)
{
    var ax = svg.append('g');

    var yMaj = ax.append('g').attr('transform', 'translate(' + L + ',0)')
        .call(d3.axisLeft(y).tickValues(o.yTicks).tickSize(22).tickPadding(28).tickFormat(o.yFmt));
    var yMin = ax.append('g').attr('transform', 'translate(' + L + ',0)')
        .call(d3.axisLeft(y).tickValues(o.yMinor).tickSize(11).tickFormat(''));

    var xMaj = ax.append('g').attr('transform', 'translate(0,' + y1 + ')')
        .call(d3.axisBottom(x).tickValues(o.xTicks).tickSize(22).tickPadding(28)
            .tickFormat(o.xLabels ? d3.format('d') : ''));
    var xMin = ax.append('g').attr('transform', 'translate(0,' + y1 + ')')
        .call(d3.axisBottom(x).tickValues(o.xMinor).tickSize(12).tickFormat(''));

    [yMaj, yMin, xMaj, xMin].forEach(function(s)
    {
        s.select('.domain').remove();
        s.selectAll('line').attr('stroke', '#000').attr('stroke-width', 4);
        s.selectAll('text').style('font-family', FONT).style('font-size', '54px').attr('fill', '#000');
    });

    // frame
    svg.append('rect').attr('x', L).attr('y', y0).attr('width', R - L).attr('height', y1 - y0)
        .attr('fill', 'none').attr('stroke', '#000').attr('stroke-width', 4.5);
}

function minorTicks(lo, hi, step, majors)
{
    var out = [];
    for (var v = lo; v <= hi + 1e-9; v += step)
    {
        var r = Math.round(v * 1000) / 1000;
        if (!majors.some(function(m){ return Math.abs(m - r) < 1e-6; }))
            out.push(r);
    }
    return out;
}

function spectrumPanel(o)
{
    var x = d3.scaleLinear().domain(o.xDom).range([L, R]);
    var y = d3.scaleLinear().domain(o.yDom).range([o.y1, o.y0]);
    var g = svg.append('g').attr('clip-path', clipFor(o.y0, o.y1));

    var smooth = d3.line().x(function(d){ return x(d[0]); }).y(function(d){ return y(d[1]); })
        .curve(d3.curveMonotoneX);
    var raw = d3.line().x(function(d){ return x(d[0]); }).y(function(d){ return y(d[1]); });

    g.append('path').datum(o.model).attr('d', smooth)
        .attr('fill', 'none').attr('stroke', C_MODEL).attr('stroke-opacity', 0.75).attr('stroke-width', 4);
    g.append('path').datum(o.tell).attr('d', smooth)
        .attr('fill', 'none').attr('stroke', C_TELL).attr('stroke-opacity', 0.75).attr('stroke-width', 4);
    g.append('path').datum(o.data).attr('d', raw)
        .attr('fill', 'none').attr('stroke', C_DATA).attr('stroke-opacity', 0.5).attr('stroke-width', 3.5)
        .attr('stroke-linejoin', 'round');

    drawAxes(x, y, o.y0, o.y1, {
        yTicks: o.yTicks, yMinor: o.yMinor, yFmt: d3.format('d'),
        xTicks: o.xTicks, xMinor: o.xMinor, xLabels: false
    });
}

function residualPanel(o)
{
    var x = d3.scaleLinear().domain(o.xDom).range([L, R]);
    var y = d3.scaleLinear().domain(o.yDom).range([o.y1, o.y0]);
    var g = svg.append('g').attr('clip-path', clipFor(o.y0, o.y1));

    var noise = o.noiseWl.map(function(w, i){ return [w, o.noise[i]]; });
    g.append('path').datum(noise)
        .attr('d', d3.area().x(function(d){ return x(d[0]); })
            .y0(function(d){ return y(-d[1]); }).y1(function(d){ return y(d[1]); }))
        .attr('fill', '#cccccc');

    g.append('line').attr('x1', L).attr('x2', R).attr('y1', y(0)).attr('y2', y(0))
        .attr('stroke', '#000').attr('stroke-width', 2.5).attr('stroke-dasharray', '3,5');

    var res = o.res.map(function(v, i){ return [o.start + i * o.step, v]; });
    g.append('path').datum(res)
        .attr('d', d3.line().x(function(d){ return x(d[0]); }).y(function(d){ return y(d[1]); }))
        .attr('fill', 'none').attr('stroke', '#000').attr('stroke-width', 2.6).attr('stroke-linejoin', 'round');

    drawAxes(x, y, o.y0, o.y1, {
        yTicks: o.yTicks, yMinor: o.yMinor, yFmt: d3.format(o.fmt),
        xTicks: o.xTicks, xMinor: o.xMinor, xLabels: true
    });
}

// Text with italics, sub- and superscripts laid out along a baseline
function mathText(x, y, parts, size, color, alignEnd)
{
    var g = svg.append('g').attr('fill', color).style('font-family', FONT);
    var cx = 0;
    parts.forEach(function(p)
    {
        if (p.hi !== undefined)
        {
            var s = size * 0.66;
            var a = g.append('text').attr('x', cx).attr('y', -size * 0.38).style('font-size', s + 'px').text(p.hi);
            var b = g.append('text').attr('x', cx).attr('y', size * 0.27).style('font-size', s + 'px').text(p.lo);
            cx += Math.max(a.node().getComputedTextLength(), b.node().getComputedTextLength());
        }
        else
        {
            var fs = (p.sub || p.sup) ? size * 0.7 : size;
            var dy = p.sub ? size * 0.18 : (p.sup ? -size * 0.42 : 0);
            var t = g.append('text').attr('x', cx).attr('y', dy)
                .style('font-size', fs + 'px')
                .style('font-style', p.it ? 'italic' : 'normal')
                .text(p.t.replace(/ /g, '\u00a0'));
            cx += t.node().getComputedTextLength();
        }
    });
    g.attr('transform', 'translate(' + (alignEnd ? x - cx : x) + ',' + y + ')');
}

var paramParts = [
    {t: 'T', it: 1}, {t: 'eff', sub: 1}, {t: ' = 3414'}, {hi: '+28', lo: '\u221228'},
    {t: ' K / log'}, {t: 'g', it: 1}, {t: ' = 4 / ['}, {t: 'M/H', it: 1}, {t: '] = 0 / '},
    {t: 'v', it: 1}, {t: 'sin'}, {t: 'i', it: 1}, {t: ' = 20.56'}, {hi: '+0.78', lo: '\u22120.6'},
    {t: ' km/s / RV = 28.03'}, {hi: '+0.43', lo: '\u22120.31'}, {t: ' km/s'}
];

// ---------------------------------------------------------------
// Upper order
spectrumPanel({
    xDom: [22925.2, 23251.9], yDom: [1.845, 5.63], y0: 281.5, y1: 904,
    model: topModel, tell: topTelluric, data: topData,
    yTicks: topFluxTicks, yMinor: minorTicks(2, 5.6, 0.2, topFluxTicks),
    xTicks: topXTicks, xMinor: minorTicks(22930, 23250, 10, topXTicks)
});
residualPanel({
    xDom: [22925.2, 23251.9], yDom: [-0.5, 0.558], y0: 941.7, y1: 1125,
    res: topResidual, start: topResStart, step: topResStep,
    noiseWl: topNoiseWl, noise: topNoise, fmt: '.1f',
    yTicks: topResTicks, yMinor: minorTicks(-0.4, 0.4, 0.1, topResTicks),
    xTicks: topXTicks, xMinor: minorTicks(22930, 23250, 10, topXTicks)
});

// Lower order
spectrumPanel({
    xDom: [23637.9, 23869.7], yDom: [0.328, 3.364], y0: 1380, y1: 2005,
    model: botModel, tell: botTelluric, data: botData,
    yTicks: botFluxTicks, yMinor: minorTicks(0.4, 3.2, 0.2, botFluxTicks),
    xTicks: botXTicks, xMinor: minorTicks(23640, 23860, 10, botXTicks)
});
residualPanel({
    xDom: [23637.9, 23869.7], yDom: [-0.38, 0.42], y0: 2043, y1: 2227,
    res: botResidual, start: botResStart, step: botResStep,
    noiseWl: botNoiseWl, noise: botNoise, fmt: '.2f',
    yTicks: botResTicks, yMinor: minorTicks(-0.35, 0.4, 0.05, botResTicks),
    xTicks: botXTicks, xMinor: minorTicks(23640, 23860, 10, botXTicks)
});

// Annotations inside the flux panels
mathText(359, 355, paramParts, 47.3, '#ff0000', false);
mathText(3413, 355, [{t: '\u03c7', it: 1}, {t: '2', sup: 1}, {t: ' = 2267.0, DOF = 985'}], 48, '#000', true);
mathText(359, 1457, paramParts, 47.3, '#ff0000', false);
mathText(3413, 1457, [{t: '\u03c7', it: 1}, {t: '2', sup: 1}, {t: ' = 1940.0, DOF = 684'}], 48, '#000', true);

// Axis labels
function label(x, y, txt, rotate)
{
    svg.append('text')
        .attr('transform', 'translate(' + x + ',' + y + ')' + (rotate ? ' rotate(-90)' : ''))
        .attr('text-anchor', 'middle')
        .style('font-family', FONT).style('font-size', '66px')
        .text(txt);
}
function waveLabel(x, y)
{
    var t = svg.append('text').attr('x', x).attr('y', y).attr('text-anchor', 'middle')
        .style('font-family', FONT).style('font-size', '66px');
    t.append('tspan').style('font-style', 'italic').text('\u03bb');
    t.append('tspan').text('\u00a0(');
    t.append('tspan').style('font-style', 'italic').text('\u00c5');
    t.append('tspan').text(')');
}
label(205, 593, 'Flux (counts/s)', true);
label(108, 1035, 'O\u2212C', true);
waveLabel(1894, 1313);
label(205, 1692, 'Flux (counts/s)', true);
label(78, 2137, 'O\u2212C', true);
waveLabel(1894, 2412);

// letter of the neighbouring figure at the right edge
svg.append('text').attr('x', 3454).attr('y', 2398)
    .style('font-family', FONT).style('font-size', '88px').text('A');

// "Fringing" call-out
var FR = '#f83326';
[['Fringing still', 699], ['an issue', 759]].forEach(function(d)
{
    svg.append('text').attr('x', 2178).attr('y', d[1]).attr('text-anchor', 'middle')
        .style('font-family', "'Liberation Sans', Arial, sans-serif").style('font-weight', 'bold')
        .style('font-size', '48px').attr('fill', FR).text(d[0]);
});
(function()
{
    var sx = 2174, sy = 784, tx = 2134, ty = 992, hl = 48, hw = 21;
    var len = Math.hypot(tx - sx, ty - sy), ux = (tx - sx) / len, uy = (ty - sy) / len;
    var bx = tx - ux * hl, by = ty - uy * hl;
    svg.append('line').attr('x1', sx).attr('y1', sy).attr('x2', bx).attr('y2', by)
        .attr('stroke', FR).attr('stroke-width', 7);
    svg.append('path')
        .attr('d', 'M' + tx + ',' + ty + 'L' + (bx - uy * hw) + ',' + (by + ux * hw) + 'L' + (bx + uy * hw) + ',' + (by - ux * hw) + 'Z')
        .attr('fill', FR);
})();

// ---------------------------------------------------------------
// Legend
svg.append('rect').attr('x', 340).attr('y', 40).attr('width', 3112).attr('height', 227).attr('rx', 12)
    .attr('fill', '#fff').attr('stroke', '#d3d3d3').attr('stroke-width', 5);

var legLeft = [
    {name: 'model', color: C_MODEL, op: 0.75, y: 80},
    {name: 'model + telluric', color: C_TELL, op: 0.75, y: 152},
    {name: 'data', color: C_DATA, op: 0.5, y: 222}
];
legLeft.forEach(function(d)
{
    svg.append('line').attr('x1', 350).attr('x2', 452).attr('y1', d.y).attr('y2', d.y)
        .attr('stroke', d.color).attr('stroke-opacity', d.op).attr('stroke-width', 4);
    svg.append('text').attr('x', 489).attr('y', d.y + 17)
        .style('font-family', FONT).style('font-size', '48px').text(d.name);
});
svg.append('line').attr('x1', 3077).attr('x2', 3178).attr('y1', 80).attr('y2', 80)
    .attr('stroke', '#000').attr('stroke-width', 3.5);
svg.append('text').attr('x', 3215).attr('y', 97)
    .style('font-family', FONT).style('font-size', '48px').text('residuals');
svg.append('rect').attr('x', 3077).attr('y', 135).attr('width', 101).attr('height', 33).attr('fill', '#cccccc');
svg.append('text').attr('x', 3215).attr('y', 169)
    .style('font-family', FONT).style('font-size', '48px').text('noise');
</script>
</body>
</html>
